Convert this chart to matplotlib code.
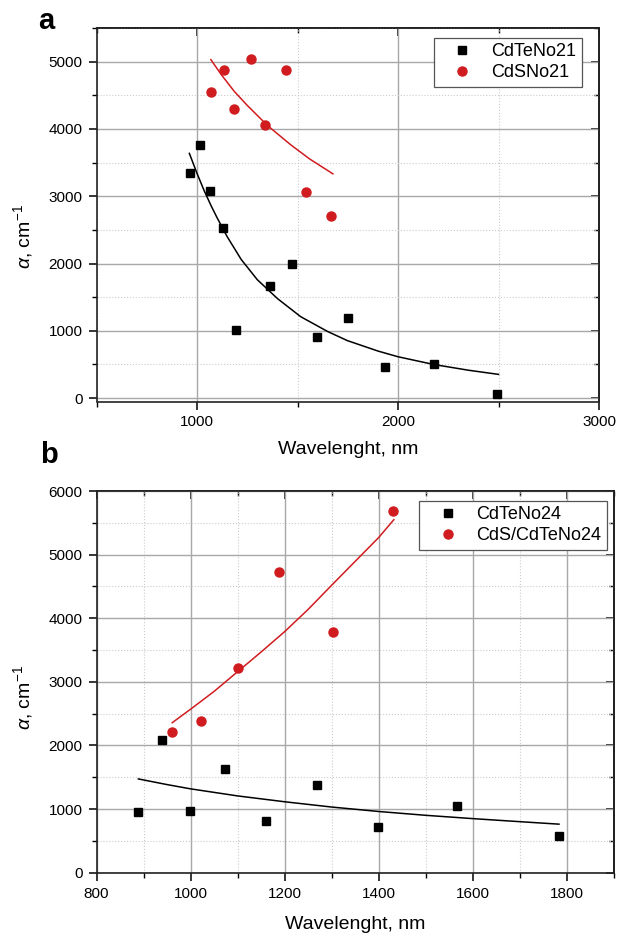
import numpy as np
import matplotlib.pyplot as plt
from matplotlib.ticker import MultipleLocator, NullFormatter

plt.rcParams['font.family'] = ['Liberation Sans', 'DejaVu Sans']
plt.rcParams['mathtext.fontset'] = 'custom'
plt.rcParams['mathtext.rm'] = 'Liberation Sans'
plt.rcParams['mathtext.it'] = 'Liberation Sans:italic'

RED = '#d01c1f'

# panel a: CdTeNo21 / CdSNo21
a_te_x = [964, 1013, 1063, 1129, 1193, 1363, 1474, 1595, 1750, 1936, 2179, 2495]
a_te_y = [3348, 3765, 3080, 2525, 1010, 1660, 1988, 902, 1190, 458, 512, 62]
a_s_x = [1068, 1132, 1186, 1270, 1338, 1442, 1540, 1668]
a_s_y = [4556, 4870, 4303, 5034, 4055, 4878, 3065, 2708]

# fitted curves
a_te_fit_x = [962, 1000, 1036, 1070, 1100, 1150, 1220, 1300, 1400, 1516, 1650, 1748, 1900, 2000, 2178, 2350, 2500]
a_te_fit_y = [3637, 3340, 3080, 2860, 2680, 2400, 2060, 1760, 1480, 1210, 990, 855, 700, 615, 500, 415, 353]
a_s_fit_x = [1069, 1120, 1185, 1250, 1351, 1466, 1560, 1676]
a_s_fit_y = [5030, 4810, 4560, 4350, 4050, 3765, 3555, 3333]

# panel b: CdTeNo24 / CdS/CdTeNo24
b_te_x = [889, 939, 998, 1074, 1161, 1269, 1398, 1567, 1783]
b_te_y = [953, 2084, 974, 1637, 805, 1374, 726, 1042, 574]
b_s_x = [961, 1023, 1100, 1187, 1302, 1431]
b_s_y = [2217, 2382, 3215, 4733, 3776, 5680]

b_te_fit_x = [889, 950, 1000, 1100, 1200, 1300, 1400, 1500, 1600, 1700, 1783]
b_te_fit_y = [1474, 1385, 1318, 1207, 1115, 1032, 962, 902, 850, 802, 763]
b_s_fit_x = [961, 1000, 1050, 1100, 1150, 1200, 1250, 1300, 1364, 1400, 1432]
b_s_fit_y = [2358, 2570, 2850, 3160, 3470, 3790, 4140, 4520, 5000, 5270, 5549]

W, H = 617, 935


def style_axes(ax, xmaj, xmin, ymaj, ymin):
    ax.xaxis.set_major_locator(MultipleLocator(xmaj))
    ax.xaxis.set_minor_locator(MultipleLocator(xmin))
    ax.yaxis.set_major_locator(MultipleLocator(ymaj))
    ax.yaxis.set_minor_locator(MultipleLocator(ymin))
    ax.grid(which='major', color='#a8a8a8', linewidth=1.0, linestyle='-')
    ax.grid(which='minor', color='#cccccc', linewidth=0.8, linestyle=':')
    ax.set_axisbelow(True)
    ax.tick_params(which='major', direction='out', length=6, width=1.1, labelsize=11, pad=4)
    ax.tick_params(which='minor', direction='out', length=3.5, width=1.0)
    for s in ax.spines.values():
        s.set_linewidth(1.2)
        s.set_color('#222222')

    top = ax.secondary_xaxis('top')
    top.xaxis.set_major_locator(MultipleLocator(xmaj))
    top.xaxis.set_minor_locator(MultipleLocator(xmin))
    top.xaxis.set_major_formatter(NullFormatter())
    top.tick_params(which='major', direction='in', length=6, width=1.1)
    top.tick_params(which='minor', direction='in', length=3.5, width=1.0)
    top.spines['top'].set_linewidth(1.2)

    right = ax.secondary_yaxis('right')
    right.yaxis.set_major_locator(MultipleLocator(ymaj))
    right.yaxis.set_minor_locator(MultipleLocator(ymin))
    right.yaxis.set_major_formatter(NullFormatter())
    right.tick_params(which='major', direction='in', length=6, width=1.1)
    right.tick_params(which='minor', direction='in', length=3.5, width=1.0)
    right.spines['right'].set_linewidth(1.2)


def labels(ax, xl_y, yl_x, yl_y):
    ax.set_xlabel('Wavelenght, nm', fontsize=14)
    ax.xaxis.set_label_coords(0.5, xl_y)
    ax.xaxis.label.set_verticalalignment('center')
    ax.set_ylabel(r'$\alpha$, cm$^{-1}$', fontsize=14)
    ax.yaxis.set_label_coords(yl_x, yl_y)
    ax.yaxis.label.set_verticalalignment('center')


def legend(ax, anchor):
    leg = ax.legend(loc='upper right', bbox_to_anchor=anchor, borderaxespad=0,
                    fontsize=13, fancybox=False, framealpha=1, edgecolor='#555555',
                    handlelength=2.6, handletextpad=0.3, borderpad=0.3,
                    labelspacing=0.22)
    leg.get_frame().set_linewidth(0.9)


fig = plt.figure(figsize=(W / 100, H / 100), dpi=100)

# panel a
ax = fig.add_axes([96.5 / W, 1 - 401.5 / H, 502.5 / W, 373.5 / H])
style_axes(ax, 1000, 500, 1000, 500)
ax.plot(a_te_fit_x, a_te_fit_y, color='black', linewidth=1.1)
ax.plot(a_s_fit_x, a_s_fit_y, color=RED, linewidth=1.1)
ax.plot(a_te_x, a_te_y, 's', color='black', markersize=6, label='CdTeNo21')
ax.plot(a_s_x, a_s_y, 'o', color=RED, markersize=6.5, label='CdSNo21')
ax.set_xlim(500, 3000)
ax.set_ylim(-50, 5500)
labels(ax, -0.128, -0.146, 0.443)
legend(ax, (0.9656, 0.974))

# panel b
ax = fig.add_axes([96.5 / W, 1 - 872.7 / H, 517.5 / W, 381.7 / H])
style_axes(ax, 200, 100, 1000, 500)
ax.plot(b_te_fit_x, b_te_fit_y, color='black', linewidth=1.1)
ax.plot(b_s_fit_x, b_s_fit_y, color=RED, linewidth=1.1)
ax.plot(b_te_x, b_te_y, 's', color='black', markersize=6, label='CdTeNo24')
ax.plot(b_s_x, b_s_y, 'o', color=RED, markersize=6.5, label='CdS/CdTeNo24')
ax.set_xlim(800, 1900)
ax.set_ylim(0, 6000)
labels(ax, -0.137, -0.142, 0.458)
legend(ax, (0.9865, 0.974))

fig.text(46 / W, 1 - 21 / H, 'a', fontsize=21, fontweight='bold', ha='center', va='center')
fig.text(49 / W, 1 - 455 / H, 'b', fontsize=21, fontweight='bold', ha='center', va='center')

fig.savefig('out.png', dpi=100)
